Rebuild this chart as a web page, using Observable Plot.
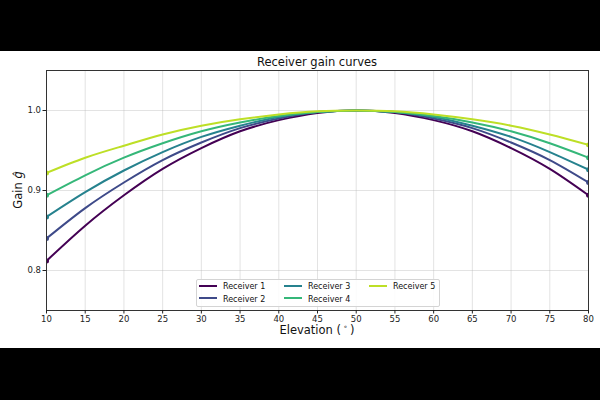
<!DOCTYPE html>
<html>
<head>
<meta charset="utf-8">
<script src="https://cdn.jsdelivr.net/npm/d3@7"></script>
<script src="https://cdn.jsdelivr.net/npm/@observablehq/plot@0.6"></script>
<style>
  html, body { margin: 0; padding: 0; background: #000; width: 600px; height: 400px; overflow: hidden; }
  #fig { position: absolute; left: 0; top: 51px; width: 600px; height: 297px; background: #fff;
         font-family: "DejaVu Sans", sans-serif; color: #111; }
  #fig svg { position: absolute; left: 0; top: 0; }
  .title { position: absolute; top: 4px; left: 0; width: 634px; text-align: center; font-size: 11.5px; }
  .xlabel { position: absolute; top: 272px; left: 0; width: 634px; text-align: center; font-size: 11.5px; }
  .ylabel { position: absolute; left: 18px; top: 139px; transform: translate(-50%, -50%) rotate(-90deg);
            font-size: 11.5px; white-space: nowrap; }
  .legend { position: absolute; left: 196px; top: 228px; width: 242px; height: 26px;
            border: 1px solid #d4d4d4; border-radius: 2px; background: rgba(255,255,255,0.85); }
  .entry { position: absolute; font-size: 8px; white-space: nowrap; line-height: 10px; }
  .entry span.sw { display: inline-block; width: 18px; height: 2px; vertical-align: middle; margin-right: 6px; margin-top: -2px; }
</style>
</head>
<body>
<div id="fig">
  <div class="title">Receiver gain curves</div>
  <div class="ylabel">Gain <i>ĝ</i></div>
  <div class="xlabel">Elevation (&thinsp;<sup style="font-size:7px">∘</sup>&thinsp;)</div>
</div>
<script>
// Elevation angles (degrees) at which each receiver's gain is sampled
const elevation = [10, 15, 20, 25, 30, 35, 40, 45, 50, 55, 60, 65, 70, 75, 80];

const receivers = ["Receiver 1", "Receiver 2", "Receiver 3", "Receiver 4", "Receiver 5"];

// Normalised gain per receiver
const gain1 = [0.812, 0.856, 0.894, 0.927, 0.953, 0.974, 0.988, 0.997, 1.000, 0.997, 0.988, 0.974, 0.953, 0.927, 0.894];
const gain2 = [0.840, 0.878, 0.910, 0.938, 0.960, 0.978, 0.990, 0.998, 1.000, 0.998, 0.990, 0.978, 0.960, 0.938, 0.910];
const gain3 = [0.867, 0.898, 0.925, 0.948, 0.967, 0.981, 0.992, 0.998, 1.000, 0.998, 0.992, 0.981, 0.967, 0.948, 0.926];
const gain4 = [0.894, 0.919, 0.941, 0.959, 0.974, 0.985, 0.993, 0.998, 1.000, 0.998, 0.993, 0.985, 0.974, 0.959, 0.941];
const gain5 = [0.922, 0.941, 0.956, 0.970, 0.981, 0.989, 0.995, 0.999, 1.000, 0.999, 0.995, 0.989, 0.981, 0.970, 0.957];

const colors = ["#440154", "#3e4a89", "#26828e", "#35b779", "#bddf26"];

const xTicks = [10, 15, 20, 25, 30, 35, 40, 45, 50, 55, 60, 65, 70, 75, 80];
const yTicks = [0.8, 0.9, 1.0];

const gains = [gain1, gain2, gain3, gain4, gain5];
const rows = [];
receivers.forEach((name, i) => {
  elevation.forEach((e, j) => rows.push({series: name, elevation: e, gain: gains[i][j]}));
});
// Endpoint markers at the first and last sampled elevation
const ends = rows.filter(d => d.elevation === elevation[0] || d.elevation === elevation[elevation.length - 1]);

const chart = Plot.plot({
  width: 600,
  height: 297,
  marginLeft: 46,
  marginRight: 12,
  marginTop: 19,
  marginBottom: 38,
  style: {fontFamily: "DejaVu Sans, sans-serif", fontSize: "8.5px", color: "#222", background: "transparent"},
  x: {domain: [10, 80], label: null},
  y: {domain: [0.75, 1.05], label: null},
  color: {domain: receivers, range: colors},
  marks: [
    Plot.gridX(xTicks, {stroke: "#b0b0b0", strokeOpacity: 0.45, strokeWidth: 0.8}),
    Plot.gridY(yTicks, {stroke: "#b0b0b0", strokeOpacity: 0.45, strokeWidth: 0.8}),
    Plot.line(rows, {x: "elevation", y: "gain", z: "series", stroke: "series", strokeWidth: 2, curve: "natural", clip: true}),
    Plot.dot(ends, {x: "elevation", y: "gain", fill: "series", r: 2.5, clip: true}),
    Plot.frame({stroke: "#333", strokeWidth: 1}),
    Plot.axisX(xTicks, {tickSize: 3.5, tickPadding: 2, tickFormat: d => String(d), label: null}),
    Plot.axisY(yTicks, {tickSize: 3.5, tickPadding: 2, tickFormat: d3.format(".1f"), label: null})
  ]
});
document.getElementById("fig").prepend(chart);

// Legend: two rows, filled column by column
const legend = document.createElement("div");
legend.className = "legend";
receivers.forEach((name, i) => {
  const col = Math.floor(i / 2), row = i % 2;
  const entry = document.createElement("div");
  entry.className = "entry";
  entry.style.left = (2 + col * 85) + "px";
  entry.style.top = (2 + row * 12.5) + "px";
  const sw = document.createElement("span");
  sw.className = "sw";
  sw.style.background = colors[i];
  entry.appendChild(sw);
  entry.appendChild(document.createTextNode(name));
  legend.appendChild(entry);
});
document.getElementById("fig").appendChild(legend);
</script>
</body>
</html>
